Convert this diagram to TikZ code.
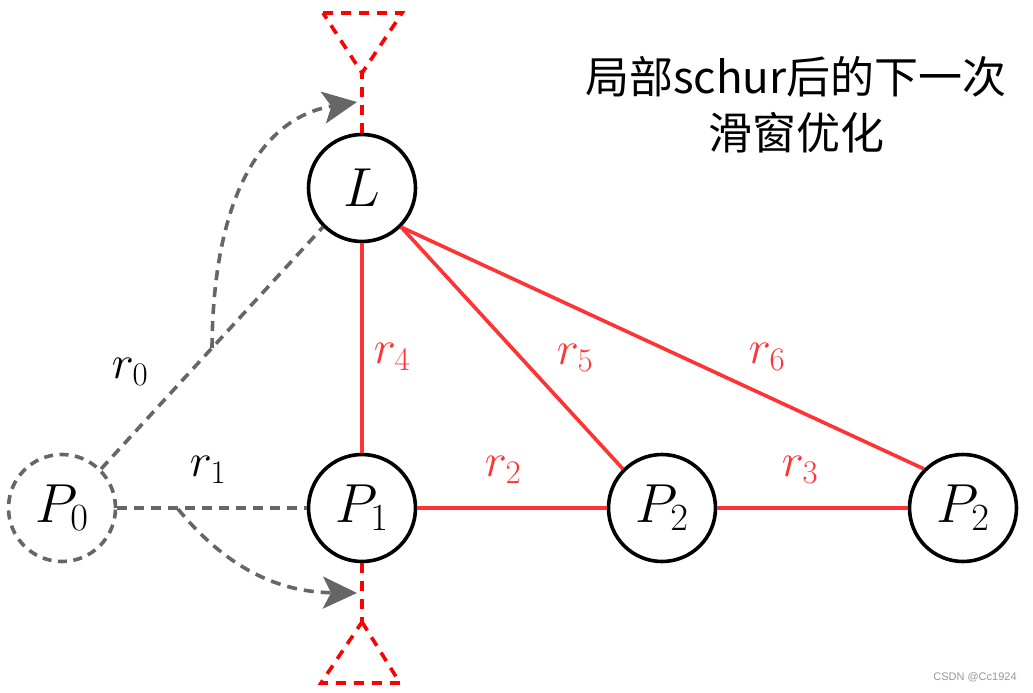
\documentclass[tikz,border=0pt]{standalone}
\usepackage{fix-cm}
\usepackage{fontspec}
\newfontfamily\cjk{Noto Sans CJK SC}
\newfontfamily\wmfont{Liberation Sans}
\usetikzlibrary{arrows.meta,calc}
\definecolor{myred}{RGB}{255,51,51}
\definecolor{mygray}{RGB}{102,102,102}
\definecolor{wmgray}{RGB}{150,150,150}
\begin{document}
\begin{tikzpicture}[x=1pt,y=-1pt,
  vtx/.style={circle,draw=black,line width=3.6pt,minimum size=107pt,inner sep=0pt,font=\fontsize{55}{60}\selectfont},
  ghost/.style={vtx,draw=mygray,dash pattern=on 9pt off 6.5pt},
  redline/.style={draw=myred,line width=3.6pt},
  reddash/.style={draw=red,line width=3.6pt,dash pattern=on 10pt off 8pt},
  graydash/.style={draw=mygray,line width=3.6pt,dash pattern=on 10pt off 7pt},
  bigtip/.style={-{Stealth[length=34pt,width=32pt,inset=8pt,fill=mygray]}},
  lbl/.style={font=\fontsize{47}{50}\selectfont},
  rlbl/.style={lbl,text=myred}]
\useasboundingbox (0,0) rectangle (1033,693);

% nodes
\node[vtx] (L) at (362,188) {$L$};
\node[vtx] (P1) at (362,508) {$P_1$};
\node[vtx] (P2a) at (662,508) {$P_2$};
\node[vtx] (P2b) at (963,508) {$P_2$};
\node[ghost] (P0) at (62,508) {$P_0$};

% triangles
\coordinate (ta) at (362,73);
\coordinate (tl) at (323,13);
\coordinate (tr) at (402,13);
\coordinate (ba) at (362,622);
\coordinate (bl) at (321,683);
\coordinate (br) at (400,683);
\draw[reddash] (tl) -- (tr) -- (ta) -- cycle;
\draw[reddash] (ba) -- (br) -- (bl) -- cycle;
\draw[reddash] (L.north) -- (ta);
\draw[reddash] (P1.south) -- (ba);

% red edges
\draw[redline] (L) -- (P1);
\draw[redline] (L.south east) -- (P2a.north west);
\draw[redline] (L.south east) -- (P2b.north west);
\draw[redline] (P1) -- (P2a);
\draw[redline] (P2a) -- (P2b);

% gray dashed edges
\draw[graydash] (P0.north east) -- (L.south west);
\draw[graydash] (P0) -- (P1);

% curved arrows
\coordinate (s0) at ($(P0.north east)!0.5!(L.south west)$);
\coordinate (e0) at (357,102);
\coordinate (s1) at (178,509);
\coordinate (e1) at (357,593);
\draw[graydash,bigtip] (s0) .. controls (213,200) and (260,118) .. (e0);
\draw[graydash,bigtip] (s1) .. controls (220,560) and (270,592) .. (e1);

% labels
\node[lbl] (r0) at (130,372) {$r_0$};
\node[lbl] (r1) at (208,470) {$r_1$};
\node[rlbl] (r4) at (392,357) {$r_4$};
\node[rlbl] (r5) at (575,358) {$r_5$};
\node[rlbl] (r6) at (767,357) {$r_6$};
\node[rlbl] (r2) at (503,470) {$r_2$};
\node[rlbl] (r3) at (800,470) {$r_3$};

% title
\node[font=\cjk\fontsize{44}{56}\selectfont,align=center] (title) at (796,105) {局部schur后的下一次\\滑窗优化};

% watermark
\node[font=\wmfont\fontsize{11}{12}\selectfont,text=wmgray] (wm) at (975,677) {CSDN @Cc1924};
\end{tikzpicture}
\end{document}
